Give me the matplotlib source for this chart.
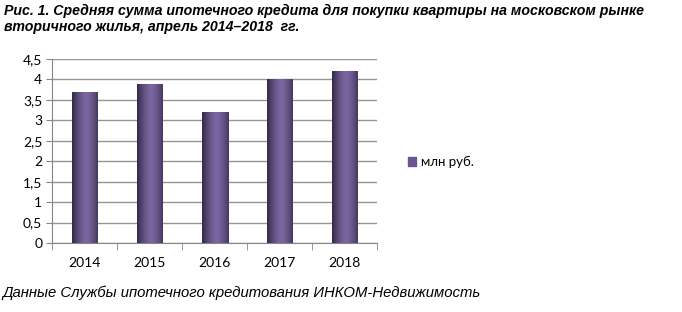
import numpy as np
import matplotlib.pyplot as plt
from matplotlib.patches import Patch

years = ['2014', '2015', '2016', '2017', '2018']
values = [3.7, 3.9, 3.2, 4.0, 4.2]
yticks = [0, 0.5, 1, 1.5, 2, 2.5, 3, 3.5, 4, 4.5]
ytick_labels = ['0', '0,5', '1', '1,5', '2', '2,5', '3', '3,5', '4', '4,5']
series_name = 'млн руб.'
title = ('Рис. 1. Средняя сумма ипотечного кредита для покупки квартиры на московском рынке\n'
         'вторичного жилья, апрель 2014–2018  гг.')
source = 'Данные Службы ипотечного кредитования ИНКОМ-Недвижимость'

fig = plt.figure(figsize=(6.82, 3.12), dpi=100)
ax = fig.add_axes([52 / 682, 1 - 243 / 312, 325 / 682, 184 / 312])

x = np.arange(len(years))
bars = ax.bar(x, values, width=0.4, color='#5e4b80', zorder=2)

# градиент по ширине столбца (тёмный левый край, светлее у середины)
t = np.linspace(-1, 1, 64) - 0.1
grad = (np.abs(t) / 1.1) ** 1.5
grad = grad[np.newaxis, :]
cmap = plt.matplotlib.colors.LinearSegmentedColormap.from_list('bar', ['#7a66a0', '#352847'])
for b in bars:
    im = ax.imshow(grad, cmap=cmap, aspect='auto', zorder=3,
                   extent=[b.get_x(), b.get_x() + b.get_width(), 0, b.get_height()])
    im.set_clip_path(b)

ax.set_xlim(-0.5, len(years) - 0.5)
ax.set_ylim(0, 4.5)
ax.set_yticks(yticks)
ax.set_yticklabels(ytick_labels)
ax.set_xticks(x)
ax.set_xticklabels(years)
ax.set_xticks(np.arange(-0.5, len(years)), minor=True)
ax.tick_params(axis='x', which='major', length=0, pad=10)
ax.tick_params(axis='x', which='minor', length=5, color='#868686')
ax.tick_params(axis='y', length=4, color='#868686', pad=3)
for lab in ax.get_xticklabels() + ax.get_yticklabels():
    lab.set_family('Lato')
    lab.set_fontsize(10)

ax.grid(axis='y', color='#969696', linewidth=1, zorder=0)
for s in ['top', 'right']:
    ax.spines[s].set_visible(False)
ax.spines['left'].set_color('#868686')
ax.spines['bottom'].set_color('#868686')

fig.legend(handles=[Patch(color='#6a5590', label=series_name)], loc='center left',
           bbox_to_anchor=(396 / 682, 1 - 162 / 312), frameon=False,
           handlelength=0.6, handleheight=0.6, handletextpad=0.4,
           prop={'family': 'Lato', 'size': 9.5})

fig.text(4 / 682, 1 - 4 / 312, title, ha='left', va='top', fontsize=10.2,
         fontweight='bold', fontstyle='italic', family='Liberation Sans', linespacing=1.15)
fig.text(2 / 682, 1 - 293 / 312, source, ha='left', va='center', fontsize=10.7,
         fontstyle='italic', family='Liberation Sans')

fig.savefig('out.png', dpi=100)
